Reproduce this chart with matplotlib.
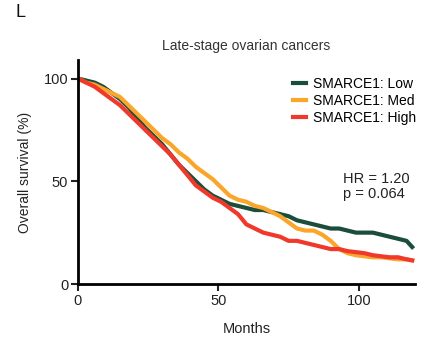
import matplotlib.pyplot as plt

plt.rcParams['font.family'] = ['Liberation Sans', 'DejaVu Sans']

# survival curves (months, % alive)
months = [0, 3, 6, 9, 12, 15, 18, 21, 24, 27, 30, 33, 36, 39, 42, 45, 48, 51, 54, 57,
          60, 63, 66, 69, 72, 75, 78, 81, 84, 87, 90, 93, 96, 99, 102, 105, 108, 111,
          114, 117, 119]
surv_low = [100, 99, 98, 96, 93, 90, 86, 81, 76, 72, 68, 63, 58, 54, 50, 46, 43, 41, 39, 38,
            37, 36, 36, 35, 34, 33, 31, 30, 29, 28, 27, 27, 26, 25, 25, 25, 24, 23,
            22, 21, 18]
surv_med = [100, 98, 97, 95, 93, 91, 87, 83, 79, 75, 71, 68, 64, 61, 57, 54, 51, 47, 43, 41,
            40, 38, 37, 35, 33, 30, 27, 26, 26, 24, 21, 17, 15, 14, 13.5, 13, 13, 12.5,
            12, 12, 11.5]
surv_high = [100, 98, 96, 93, 90, 87, 83, 79, 75, 71, 67, 63, 58, 53, 48, 45, 42, 40, 37, 34,
             29, 27, 25, 24, 23, 21, 21, 20, 19, 18, 17, 17, 16, 15.5, 15, 14, 13.5, 13,
             13, 12, 11.5]

labels = ['SMARCE1: Low', 'SMARCE1: Med', 'SMARCE1: High']
colors = ['#1b4d3b', '#f9a62a', '#f0392b']

fig = plt.figure(figsize=(4.35, 3.43), dpi=100)
ax = fig.add_axes([0.179, 0.172, 0.775, 0.653])

for s, lab, c in zip([surv_low, surv_med, surv_high], labels, colors):
    ax.plot(months, s, color=c, lw=3, label=lab, solid_joinstyle='round')

ax.set_xlim(0, 120)
ax.set_ylim(0, 109)
ax.set_xticks([0, 50, 100])
ax.set_yticks([0, 50, 100])
ax.spines['top'].set_visible(False)
ax.spines['right'].set_visible(False)
ax.spines['left'].set_linewidth(2)
ax.spines['bottom'].set_linewidth(2)
ax.tick_params(width=1.5, length=5, pad=2, labelsize=10.5, colors='#222222')

ax.set_title('Late-stage ovarian cancers', fontsize=10, color='#333333', pad=7)
ax.set_xlabel('Months', fontsize=10.5, color='#222222', labelpad=10)
ax.set_ylabel('Overall survival (%)', fontsize=10, color='#222222', labelpad=8)

ax.legend(loc='upper right', bbox_to_anchor=(1.04, 0.98), frameon=False, fontsize=10,
          handlelength=0.9, handletextpad=0.5, labelspacing=0.2)

ax.text(0.786, 0.50, 'HR = 1.20\np = 0.064', transform=ax.transAxes, fontsize=10.5,
        va='top', ha='left', color='#222222', linespacing=1.1)

fig.text(0.035, 0.965, 'L', fontsize=13, color='#111111', va='center')

fig.savefig('out.png', dpi=100)
